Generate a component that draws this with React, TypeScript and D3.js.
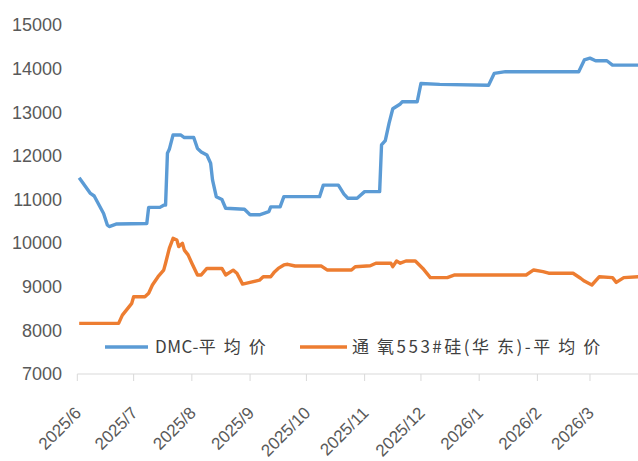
import React from "react";
import * as d3 from "d3";

const monthTicks = ["2025-06-01","2025-07-01","2025-08-01","2025-09-01","2025-10-01","2025-11-01","2025-12-01","2026-01-01","2026-02-01","2026-03-01"];
const monthLabels = ["2025/6","2025/7","2025/8","2025/9","2025/10","2025/11","2025/12","2026/1","2026/2","2026/3"];
const yTicks = [7000, 8000, 9000, 10000, 11000, 12000, 13000, 14000, 15000];

const dmcDates = ["2025-06-02","2025-06-08","2025-06-10","2025-06-15","2025-06-17","2025-06-18","2025-06-22","2025-07-08","2025-07-09","2025-07-15","2025-07-17","2025-07-18","2025-07-19","2025-07-20","2025-07-22","2025-07-26","2025-07-28","2025-08-02","2025-08-04","2025-08-06","2025-08-09","2025-08-11","2025-08-12","2025-08-14","2025-08-17","2025-08-19","2025-08-29","2025-09-01","2025-09-06","2025-09-11","2025-09-12","2025-09-17","2025-09-19","2025-10-08","2025-10-10","2025-10-18","2025-10-21","2025-10-23","2025-10-28","2025-11-01","2025-11-09","2025-11-10","2025-11-12","2025-11-14","2025-11-16","2025-11-20","2025-11-21","2025-11-29","2025-12-01","2025-12-11","2026-01-06","2026-01-09","2026-01-15","2026-02-23","2026-02-26","2026-03-01","2026-03-04","2026-03-10","2026-03-13","2026-03-27"];
const dmcValues = [11500,11140,11080,10680,10415,10380,10440,10450,10820,10820,10870,10870,12060,12150,12480,12480,12420,12420,12170,12090,12020,11830,11450,11065,11000,10800,10775,10650,10650,10720,10830,10830,11065,11065,11330,11330,11125,11030,11030,11180,11180,12250,12350,12745,13080,13190,13240,13240,13660,13640,13620,13890,13930,13930,14200,14240,14180,14180,14080,14080];

const siDates = ["2025-06-02","2025-06-23","2025-06-25","2025-06-30","2025-07-01","2025-07-07","2025-07-09","2025-07-11","2025-07-14","2025-07-17","2025-07-18","2025-07-20","2025-07-22","2025-07-24","2025-07-25","2025-07-27","2025-07-28","2025-07-30","2025-08-01","2025-08-04","2025-08-06","2025-08-09","2025-08-17","2025-08-19","2025-08-23","2025-08-25","2025-08-28","2025-09-01","2025-09-06","2025-09-08","2025-09-12","2025-09-14","2025-09-16","2025-09-19","2025-09-21","2025-09-25","2025-10-09","2025-10-12","2025-10-25","2025-10-27","2025-11-04","2025-11-07","2025-11-15","2025-11-16","2025-11-18","2025-11-20","2025-11-23","2025-11-28","2025-12-02","2025-12-06","2025-12-15","2025-12-19","2026-01-26","2026-01-30","2026-02-04","2026-02-07","2026-02-20","2026-02-24","2026-02-26","2026-03-02","2026-03-06","2026-03-13","2026-03-15","2026-03-19","2026-03-27"];
const siValues = [8160,8160,8350,8620,8770,8770,8850,9040,9230,9380,9540,9880,10110,10070,9920,9995,9840,9730,9540,9270,9270,9420,9420,9270,9380,9310,9060,9100,9150,9230,9230,9340,9420,9500,9515,9475,9475,9385,9385,9460,9480,9540,9540,9460,9590,9540,9590,9590,9420,9210,9210,9270,9270,9385,9345,9310,9310,9195,9130,9040,9230,9210,9100,9210,9230];

const seriesNames = ["DMC-平均价", "通氧553#硅(华东)-平均价"];
const seriesColors = ["#5B9BD5", "#ED7D31"];

const W = 638, H = 461;
const parse = d3.timeParse("%Y-%m-%d");
const isCJK = (s: string) => /[\u4e00-\u9fff]/.test(s);

export default function App() {
  const x = d3.scaleTime()
    .domain([parse("2025-06-01")!, parse("2026-03-27")!])
    .range([77.3, 638.8]);
  const y = d3.scaleLinear().domain([7000, 15000]).range([374, 25]);

  const line = d3.line<[Date, number]>()
    .x(d => x(d[0]))
    .y(d => y(d[1]));

  const dmc: [Date, number][] = dmcDates.map((d, i) => [parse(d)!, dmcValues[i]]);
  const si: [Date, number][] = siDates.map((d, i) => [parse(d)!, siValues[i]]);

  const axisY = y(7000);
  const font = "'Liberation Sans', Arial, sans-serif";
  const cjkFont = "'Noto Sans CJK SC', sans-serif";

  const legendText = (name: string, x0: number, latinGap: number) => {
    const chars = Array.from(name);
    return (
      <text x={x0} y={353} fontFamily={cjkFont} fontSize={17} fill="#404040">
        {chars.map((c, i) => {
          const next = chars[i + 1];
          const gap = next === undefined ? 0 : (isCJK(c) && isCJK(next) ? 8 : latinGap);
          return <tspan key={i} letterSpacing={gap}>{c}</tspan>;
        })}
      </text>
    );
  };

  return (
    <svg width={W} height={H} style={{ position: "absolute", left: 0, top: 0, background: "#fff" }}>
      <rect width={W} height={H} fill="#fff" />
      {yTicks.map(t => (
        <text key={t} x={62} y={y(t)} dy="0.35em" textAnchor="end" fontFamily={font} fontSize={18} fill="#595959">{t}</text>
      ))}
      <line x1={x(parse(monthTicks[0])!)} x2={W} y1={axisY} y2={axisY} stroke="#D9D9D9" strokeWidth={1} />
      {monthTicks.map((m, i) => {
        const px = x(parse(m)!);
        return (
          <g key={m}>
            <line x1={px} x2={px} y1={axisY} y2={axisY + 7} stroke="#D9D9D9" strokeWidth={1} />
            <text transform={`translate(${px + 5},${axisY + 40}) rotate(-45)`} textAnchor="end" fontFamily={font} fontSize={17} fill="#595959">{monthLabels[i]}</text>
          </g>
        );
      })}
      <path d={line(dmc)!} fill="none" stroke={seriesColors[0]} strokeWidth={3.4} strokeLinejoin="round" />
      <path d={line(si)!} fill="none" stroke={seriesColors[1]} strokeWidth={3.4} strokeLinejoin="round" />
      <g>
        <line x1={105} x2={148} y1={347} y2={347} stroke={seriesColors[0]} strokeWidth={3.4} />
        {legendText(seriesNames[0], 155, 0.5)}
        <line x1={300} x2={347} y1={347} y2={347} stroke={seriesColors[1]} strokeWidth={3.4} />
        {legendText(seriesNames[1], 352, 2.5)}
      </g>
    </svg>
  );
}
